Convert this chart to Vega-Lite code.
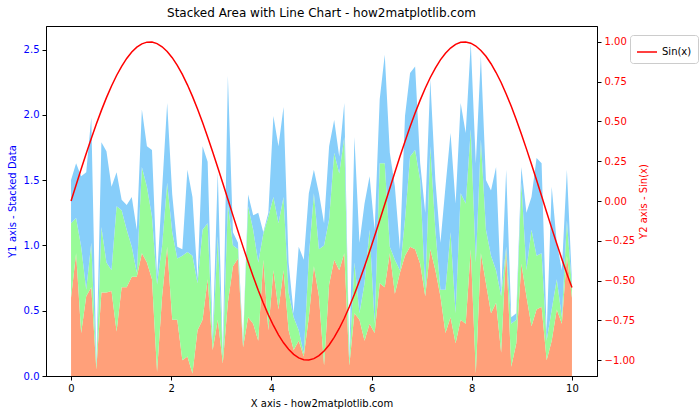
{
  "$schema": "https://vega.github.io/schema/vega-lite/v6.json",
  "width": 551,
  "height": 350,
  "autosize": {"type": "none"},
  "padding": {"left": 46, "top": 26, "right": 103, "bottom": 44},
  "background": "white",
  "title": {"text": "Stacked Area with Line Chart - how2matplotlib.com", "font": "DejaVu Sans", "fontSize": 12, "fontWeight": "normal", "color": "black", "offset": 6, "anchor": "middle"},
  "config": {
    "view": {"stroke": "black", "strokeWidth": 1},
    "axis": {"labelFont": "DejaVu Sans", "titleFont": "DejaVu Sans", "labelFontSize": 10, "titleFontSize": 10, "titleFontWeight": "normal", "grid": false, "domainColor": "black", "tickColor": "black", "tickSize": 4, "labelPadding": 3}
  },
  "data": {"values": [
    {"x":0,"a":0.6,"b":0.57,"c":0.33,"s":0},
    {"x":0.101,"a":0.94,"b":0.27,"c":0.42,"s":0.1008},
    {"x":0.202,"a":0.33,"b":0.66,"c":0.54,"s":0.2006},
    {"x":0.303,"a":0.61,"b":0.05,"c":0.9,"s":0.2984},
    {"x":0.404,"a":0.68,"b":0.34,"c":0.96,"s":0.3931},
    {"x":0.505,"a":0.05,"b":0.03,"c":0.02,"s":0.4838},
    {"x":0.606,"a":0.64,"b":0.5,"c":0.65,"s":0.5696},
    {"x":0.707,"a":0.64,"b":0.23,"c":0.85,"s":0.6496},
    {"x":0.808,"a":0.65,"b":0.16,"c":0.64,"s":0.7229},
    {"x":0.909,"a":0.34,"b":0.96,"c":0.26,"s":0.7888},
    {"x":1.01,"a":0.68,"b":0.59,"c":0.08,"s":0.8468},
    {"x":1.111,"a":0.68,"b":0.44,"c":0.19,"s":0.8961},
    {"x":1.212,"a":0.76,"b":0.23,"c":0.38,"s":0.9364},
    {"x":1.313,"a":0.76,"b":0.03,"c":0.33,"s":0.9671},
    {"x":1.414,"a":0.94,"b":0.66,"c":0.44,"s":0.9879},
    {"x":1.515,"a":0.87,"b":0.58,"c":0.31,"s":0.9985},
    {"x":1.616,"a":0.74,"b":0.48,"c":0.51,"s":0.999},
    {"x":1.717,"a":0.03,"b":0.67,"c":0.06,"s":0.9893},
    {"x":1.818,"a":0.61,"b":0.39,"c":0.43,"s":0.9696},
    {"x":1.919,"a":0.99,"b":0.49,"c":0.61,"s":0.94},
    {"x":2.02,"a":0.43,"b":0.67,"c":0.29,"s":0.9009},
    {"x":2.121,"a":0.43,"b":0.47,"c":0.09,"s":0.8525},
    {"x":2.222,"a":0.12,"b":0.8,"c":0.05,"s":0.7955},
    {"x":2.323,"a":0.15,"b":0.8,"c":0.63,"s":0.7303},
    {"x":2.424,"a":0.02,"b":0.9,"c":0.45,"s":0.6577},
    {"x":2.525,"a":0.35,"b":0.36,"c":0.03,"s":0.5784},
    {"x":2.626,"a":0.43,"b":0.69,"c":0.64,"s":0.4931},
    {"x":2.727,"a":0.74,"b":0.43,"c":0.47,"s":0.4028},
    {"x":2.828,"a":0.2,"b":0.05,"c":0.05,"s":0.3083},
    {"x":2.929,"a":0.43,"b":0.64,"c":0.49,"s":0.2107},
    {"x":3.03,"a":0.1,"b":0.05,"c":0.02,"s":0.1113},
    {"x":3.131,"a":0.56,"b":0.76,"c":0.98,"s":0.0106},
    {"x":3.232,"a":0.84,"b":0.16,"c":0.1,"s":-0.0903},
    {"x":3.333,"a":0.9,"b":0.07,"c":0.05,"s":-0.1902},
    {"x":3.434,"a":0.22,"b":0.02,"c":0.02,"s":-0.2883},
    {"x":3.535,"a":0.45,"b":0.85,"c":0.09,"s":-0.3834},
    {"x":3.636,"a":0.4,"b":0.72,"c":0.11,"s":-0.4745},
    {"x":3.737,"a":0.27,"b":0.6,"c":0.38,"s":-0.5608},
    {"x":3.838,"a":0.89,"b":0.2,"c":0.01,"s":-0.6415},
    {"x":3.939,"a":0.35,"b":0.87,"c":0.03,"s":-0.7155},
    {"x":4.04,"a":0.81,"b":0.56,"c":0.62,"s":-0.7823},
    {"x":4.141,"a":0.51,"b":0.66,"c":0.59,"s":-0.8412},
    {"x":4.242,"a":0.81,"b":0.56,"c":0.69,"s":-0.8914},
    {"x":4.343,"a":0.35,"b":0.29,"c":0.23,"s":-0.9323},
    {"x":4.444,"a":0.2,"b":0.25,"c":0.03,"s":-0.9642},
    {"x":4.545,"a":0.27,"b":0.08,"c":0.64,"s":-0.986},
    {"x":4.646,"a":0.15,"b":0.02,"c":0.72,"s":-0.9978},
    {"x":4.747,"a":0.45,"b":0.46,"c":0.49,"s":-0.9994},
    {"x":4.848,"a":0.84,"b":0.56,"c":0.18,"s":-0.9908},
    {"x":4.949,"a":0.61,"b":0.36,"c":0.43,"s":-0.9722},
    {"x":5.051,"a":0.08,"b":0.92,"c":0.17,"s":-0.943},
    {"x":5.152,"a":0.7,"b":0.5,"c":0.56,"s":-0.9049},
    {"x":5.253,"a":0.89,"b":0.82,"c":0.25,"s":-0.8575},
    {"x":5.354,"a":0.81,"b":0.74,"c":0.13,"s":-0.8013},
    {"x":5.455,"a":0.94,"b":0.89,"c":0.26,"s":-0.7373},
    {"x":5.556,"a":0.08,"b":0.04,"c":0.02,"s":-0.6648},
    {"x":5.657,"a":0.48,"b":0.39,"c":0.96,"s":-0.5867},
    {"x":5.758,"a":0.43,"b":0.05,"c":0.54,"s":-0.5018},
    {"x":5.859,"a":0.27,"b":0.44,"c":0.61,"s":-0.4118},
    {"x":5.96,"a":0.4,"b":0.72,"c":0.41,"s":-0.3176},
    {"x":6.061,"a":0.33,"b":0.07,"c":0.72,"s":-0.2201},
    {"x":6.162,"a":0.71,"b":0.92,"c":0.49,"s":-0.121},
    {"x":6.263,"a":0.68,"b":0.95,"c":0.83,"s":-0.0202},
    {"x":6.364,"a":0.94,"b":0.05,"c":0.72,"s":0.0807},
    {"x":6.465,"a":0.63,"b":0.26,"c":0.56,"s":0.1808},
    {"x":6.566,"a":0.79,"b":0.02,"c":0.16,"s":0.2791},
    {"x":6.667,"a":0.92,"b":0.28,"c":0.79,"s":0.3745},
    {"x":6.768,"a":0.99,"b":0.69,"c":0.64,"s":0.466},
    {"x":6.869,"a":0.97,"b":0.76,"c":0.64,"s":0.553},
    {"x":6.97,"a":0.86,"b":0.64,"c":0.13,"s":0.6341},
    {"x":7.071,"a":0.61,"b":0.05,"c":0.59,"s":0.7087},
    {"x":7.172,"a":0.97,"b":0.79,"c":0.51,"s":0.7765},
    {"x":7.273,"a":0.81,"b":0.31,"c":0.38,"s":0.8357},
    {"x":7.374,"a":0.61,"b":0.05,"c":0.36,"s":0.8868},
    {"x":7.475,"a":0.33,"b":0.33,"c":0.79,"s":0.9289},
    {"x":7.576,"a":0.45,"b":0.65,"c":0.76,"s":0.9616},
    {"x":7.677,"a":0.25,"b":0.23,"c":0.84,"s":0.9844},
    {"x":7.778,"a":0.43,"b":0.97,"c":0.69,"s":0.9972},
    {"x":7.879,"a":0.4,"b":0.92,"c":0.54,"s":0.9997},
    {"x":7.98,"a":0.97,"b":0.92,"c":0.66,"s":0.992},
    {"x":8.081,"a":0.02,"b":0.85,"c":0.76,"s":0.9742},
    {"x":8.182,"a":0.94,"b":0.87,"c":0.64,"s":0.9465},
    {"x":8.283,"a":0.71,"b":0.41,"c":0.38,"s":0.9094},
    {"x":8.384,"a":0.48,"b":0.44,"c":0.5,"s":0.863},
    {"x":8.485,"a":0.56,"b":0.25,"c":0.79,"s":0.8077},
    {"x":8.586,"a":0.18,"b":0.43,"c":0.02,"s":0.7447},
    {"x":8.687,"a":0.97,"b":0.02,"c":0.59,"s":0.6728},
    {"x":8.788,"a":0.07,"b":0.33,"c":0.05,"s":0.5955},
    {"x":8.889,"a":0.25,"b":0.18,"c":0.05,"s":0.5112},
    {"x":8.99,"a":0.86,"b":0.62,"c":0.12,"s":0.4214},
    {"x":9.091,"a":0.61,"b":0.2,"c":0.44,"s":0.3276},
    {"x":9.192,"a":0.38,"b":0.74,"c":0.25,"s":0.2304},
    {"x":9.293,"a":0.51,"b":0.41,"c":0.75,"s":0.1315},
    {"x":9.394,"a":0.53,"b":0.41,"c":0.69,"s":0.0308},
    {"x":9.495,"a":0.12,"b":0.15,"c":0.06,"s":-0.0701},
    {"x":9.596,"a":0.27,"b":0.24,"c":0.94,"s":-0.1704},
    {"x":9.697,"a":0.51,"b":0.23,"c":0.28,"s":-0.2689},
    {"x":9.798,"a":0.4,"b":0.05,"c":0.36,"s":-0.3646},
    {"x":9.899,"a":0.92,"b":0.27,"c":0.39,"s":-0.4566},
    {"x":10,"a":0.6,"b":0.08,"c":0.04,"s":-0.544}
  ]},
  "layer": [
    {
      "transform": [{"fold": ["a", "b", "c"], "as": ["key", "value"]}],
      "mark": {"type": "area", "interpolate": "linear", "clip": true},
      "encoding": {
        "x": {"field": "x", "type": "quantitative", "scale": {"domain": [-0.5, 10.5], "nice": false, "zero": false},
              "axis": {"values": [0, 2, 4, 6, 8, 10], "format": "d", "title": "X axis - how2matplotlib.com", "titlePadding": 5}},
        "y": {"field": "value", "type": "quantitative", "stack": "zero", "scale": {"domain": [0, 2.68], "nice": false},
              "axis": {"values": [0, 0.5, 1, 1.5, 2, 2.5], "format": ".1f", "labelColor": "blue", "title": "Y1 axis - Stacked Data", "titleColor": "blue", "titlePadding": 6}},
        "color": {"field": "key", "type": "nominal", "scale": {"domain": ["a", "b", "c"], "range": ["#FFA07A", "#98FB98", "#87CEFA"]}, "legend": null},
        "order": {"field": "key", "type": "ordinal", "sort": "ascending"}
      }
    },
    {
      "mark": {"type": "line", "strokeWidth": 1.5, "clip": true},
      "encoding": {
        "x": {"field": "x", "type": "quantitative"},
        "y": {"field": "s", "type": "quantitative", "scale": {"domain": [-1.1, 1.1], "nice": false},
              "axis": {"orient": "right", "values": [-1, -0.75, -0.5, -0.25, 0, 0.25, 0.5, 0.75, 1], "format": ".2f", "labelColor": "red", "title": "Y2 axis - Sin(x)", "titleColor": "red", "titleAngle": 270, "titleBaseline": "top", "titlePadding": 4}},
        "color": {"datum": "Sin(x)", "type": "nominal", "scale": {"domain": ["Sin(x)"], "range": ["red"]},
                  "legend": {"title": null, "orient": "none", "legendX": 584, "legendY": 9, "labelFont": "DejaVu Sans", "labelFontSize": 10, "labelColor": "black", "symbolType": "stroke", "symbolStrokeWidth": 1.5, "symbolSize": 400, "strokeColor": "#cccccc", "cornerRadius": 3, "padding": 6, "fillColor": "white"}}
      }
    }
  ],
  "resolve": {"scale": {"y": "independent", "color": "independent"}}
}
